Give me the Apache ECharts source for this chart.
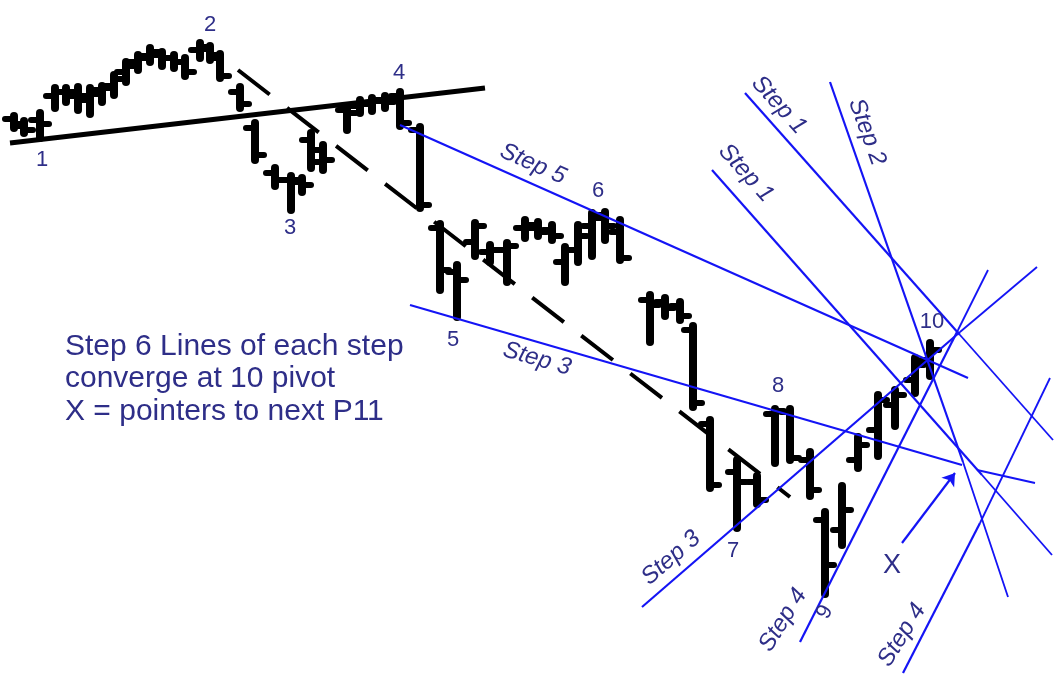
<!DOCTYPE html>
<html><head><meta charset="utf-8">
<script src="https://cdn.jsdelivr.net/npm/echarts@6/dist/echarts.min.js"></script>
<style>html,body{margin:0;padding:0;background:#fff}#c{width:1056px;height:675px}</style>
</head><body><div id="c"></div>
<script>
// ---- price bars (time, open, high, low, close) ----
const barTime  = [14,24,40,55,66,78,90,102,114,126,138,150,162,174,185,200,210,220,240,255,275,291,302,311,323,347,360,372,385,400,420,440,457,475,490,507,525,538,552,565,578,592,605,620,650,665,680,693,710,737,757,775,790,810,825,842,858,878,895,915,930];
const barOpen  = [556,551,555,579,583,583,579,581,589,603,613,619,620,617,613,625,626,617,583,547,502,495,495,535,525,565,569,571,574,579,545,447,403,433,423,425,447,447,445,413,425,449,460,443,375,373,369,345,251,203,193,261,263,215,155,145,215,245,270,295,315];
const barHigh  = [559,554,562,587,587,588,587,589,600,613,620,627,623,620,617,632,629,621,588,552,507,499,497,542,530,569,575,577,579,583,548,451,410,452,430,432,455,453,450,428,450,462,463,455,380,377,373,349,255,215,199,266,266,223,163,189,238,280,285,317,332];
const barLow   = [547,542,537,567,573,565,561,573,580,593,605,613,609,607,599,617,615,597,567,515,489,465,483,507,505,545,562,564,567,549,467,385,358,419,413,393,437,439,435,393,413,419,435,415,333,359,355,268,187,147,171,212,215,179,81,130,207,219,249,282,299];
const barClose = [549,545,551,583,579,575,585,587,596,609,617,623,617,613,603,628,620,599,571,520,495,493,490,513,515,562,572,575,573,552,470,405,395,449,425,429,450,443,439,425,439,457,449,417,370,367,359,272,190,193,175,264,217,185,110,165,230,275,280,310,325];

// ---- hand-drawn lines (time, price) ----
const trendLine  = [[10,532],[485,587]];
const dashedLine = [[238,605],[790,178]];
const stepLines = [
  [[400,550],[968,297]],   // Step 5
  [[410,370],[962,210]],   // Step 3 (falling)
  [[642,68],[960,343]],    // Step 3 (rising)
  [[800,33],[958,345]],    // Step 4 (left)
  [[903,2],[980,152]],     // Step 4 (right)
  [[745,582],[960,340]],   // Step 1 (upper)
  [[712,505],[982,200]],   // Step 1 (lower)
  [[830,593],[963,213]]    // Step 2
];
const roughLines = [
  [[977,205],[1035,192]],
  [[960,343],[1037,408]],
  [[958,345],[988,405]],
  [[980,152],[1050,297]],
  [[960,340],[1053,235]],
  [[982,200],[1052,120]],
  [[963,213],[1008,78]]
];
const arrowLine = [[902,132],[955,202]];

// ---- labels ----
const pivotNames = ['1','2','3','4','5','6','7','8','9','10'];
const pivotTime  = [42,210,290,399,453,598,733,778,825,932];
const pivotPrice = [515,650,447,602,335,484,124,289,63,353];
const pivotAngle = [0,0,0,0,0,0,0,0,63,0];
const stepNames  = ['Step 5','Step 3','Step 3','Step 4','Step 4','Step 1','Step 1','Step 2'];
const stepTime   = [533,537,671,783,902,779,746,867];
const stepPrice  = [511,316,117,55,40,570,502,543];
const stepAngle  = [-24,-16,41,58,58,-48,-48,-70];
const xMarkName  = 'X';
const xMarkPos   = [892,109];
const noteLines  = ['Step 6 Lines of each step','converge at 10 pivot','X = pointers to next P11'];

const NAVY = '#2e2e88';
const BLUE = '#1414f5';
const FONT = '"Liberation Sans", Arial, sans-serif';

const bars = barTime.map((t,i)=>[t,barOpen[i],barHigh[i],barLow[i],barClose[i]]);

function renderBar(params, api){
  const hi = api.coord([api.value(0), api.value(2)]);
  const lo = api.coord([api.value(0), api.value(3)]);
  const op = api.coord([api.value(0), api.value(1)]);
  const cl = api.coord([api.value(0), api.value(4)]);
  const st = {stroke:'#000', lineWidth:8, lineCap:'round'};
  const tk = {stroke:'#000', lineWidth:6, lineCap:'round'};
  return {type:'group', children:[
    {type:'line', shape:{x1:hi[0],y1:hi[1],x2:lo[0],y2:lo[1]}, style:st},
    {type:'line', shape:{x1:op[0]-9,y1:op[1],x2:op[0],y2:op[1]}, style:tk},
    {type:'line', shape:{x1:cl[0],y1:cl[1],x2:cl[0]+9,y2:cl[1]}, style:tk}
  ]};
}

const pivotData = pivotNames.map((n,i)=>({name:n, value:[pivotTime[i],pivotPrice[i]], label:{rotate:pivotAngle[i]}}));
const stepData = stepNames.map((n,i)=>({name:n, value:[stepTime[i],stepPrice[i]], label:{rotate:stepAngle[i]}}));

const labelBase = {show:true, position:'inside', formatter:'{b}', color:NAVY, fontFamily:FONT, opacity:1};

const chart = echarts.init(document.getElementById('c'), null, {renderer:'canvas'});
chart.setOption({
  animation:false,
  backgroundColor:'#fff',
  grid:{left:0,right:0,top:0,bottom:0},
  xAxis:{type:'value',min:0,max:1056,show:false},
  yAxis:{type:'value',min:0,max:675,show:false},
  graphic:[{
    type:'text', left:65, top:330,
    style:{text:noteLines.join('\n'), font:'30px '+FONT, fill:NAVY, lineHeight:32.5}
  }],
  series:[
    {type:'lines', coordinateSystem:'cartesian2d', z:2, silent:true,
     lineStyle:{color:'#000', width:5, opacity:1},
     data:[{coords:trendLine}]},
    {type:'lines', coordinateSystem:'cartesian2d', z:2, silent:true,
     lineStyle:{color:'#000', width:4, type:[40,22], opacity:1},
     data:[{coords:dashedLine}]},
    {type:'custom', renderItem:renderBar, data:bars, z:3, silent:true,
     encode:{x:0,y:[1,2,3,4]}},
    {type:'lines', coordinateSystem:'cartesian2d', z:4, silent:true,
     lineStyle:{color:BLUE, width:2.2, opacity:1},
     data:stepLines.map(c=>({coords:c}))},
    {type:'lines', coordinateSystem:'cartesian2d', z:4, silent:true,
     lineStyle:{color:BLUE, width:1.8, opacity:1},
     data:roughLines.map(c=>({coords:c}))},
    {type:'lines', coordinateSystem:'cartesian2d', z:4, silent:true,
     symbol:['none','arrow'], symbolSize:12,
     lineStyle:{color:BLUE, width:2.2, opacity:1},
     data:[{coords:arrowLine}]},
    {type:'scatter', symbolSize:1, z:5, silent:true, data:pivotData,
     itemStyle:{opacity:0}, emphasis:{disabled:true},
     label:Object.assign({fontSize:22}, labelBase)},
    {type:'scatter', symbolSize:1, z:5, silent:true, data:stepData,
     itemStyle:{opacity:0}, emphasis:{disabled:true},
     label:Object.assign({fontSize:24, fontStyle:'italic'}, labelBase)},
    {type:'scatter', symbolSize:1, z:5, silent:true, data:[{name:xMarkName, value:xMarkPos}],
     itemStyle:{opacity:0}, emphasis:{disabled:true},
     label:Object.assign({fontSize:27}, labelBase)}
  ]
});
</script></body></html>
